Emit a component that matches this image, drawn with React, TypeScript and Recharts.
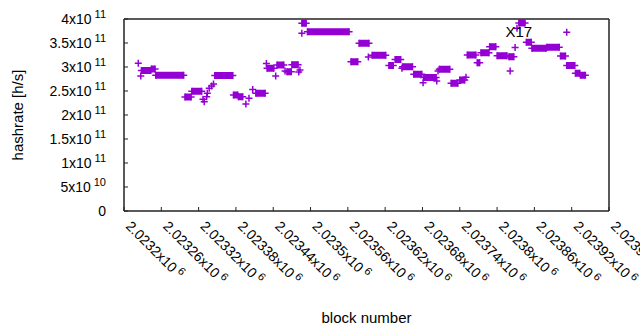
import React from "react"
import { ComposedChart, Line, XAxis, YAxis, Label, ReferenceArea } from "recharts"

// block heights where the miner reported the same hashrate for a stretch
const runStart = [
  2023228, 2023244, 2023251, 2023298, 2023309, 2023346, 2023376, 2023384, 2023412, 2023430,
  2023446, 2023462, 2023470, 2023486, 2023495, 2023565, 2023578, 2023599, 2023626, 2023636,
  2023648, 2023666, 2023682, 2023707, 2023726, 2023740, 2023752, 2023768, 2023774, 2023788,
  2023800, 2023819, 2023835, 2023847, 2023856, 2023880, 2023902, 2023912, 2023926, 2023934,
]
const runEnd = [
  2023243, 2023250, 2023296, 2023308, 2023325, 2023375, 2023383, 2023391, 2023427, 2023441,
  2023457, 2023469, 2023480, 2023493, 2023562, 2023576, 2023594, 2023621, 2023633, 2023645,
  2023664, 2023679, 2023702, 2023724, 2023737, 2023748, 2023766, 2023772, 2023787, 2023798,
  2023816, 2023827, 2023845, 2023855, 2023879, 2023900, 2023910, 2023925, 2023933, 2023942,
]
const runRate = [
  292.7e9, 295.8e9, 282.7e9, 237.5e9, 249.4e9, 282.3e9, 241.7e9, 238.1e9, 245.2e9, 297.3e9,
  304.2e9, 290.2e9, 304.8e9, 391.0e9, 373.5e9, 311.0e9, 349.4e9, 324.4e9, 303.1e9, 315.6e9,
  300.6e9, 284.8e9, 278.1e9, 295.2e9, 266.0e9, 272.9e9, 325.0e9, 309.0e9, 329.8e9, 342.3e9,
  323.5e9, 321.5e9, 391.7e9, 351.7e9, 339.2e9, 341.0e9, 322.9e9, 303.1e9, 286.9e9, 282.9e9,
]

// isolated samples
const singleBlock = [
  2023223, 2023227, 2023327, 2023329, 2023333, 2023334, 2023337, 2023341, 2023344, 2023396,
  2023401, 2023407, 2023429, 2023444, 2023459, 2023481, 2023483, 2023486, 2023593, 2023647,
  2023681, 2023703, 2023705, 2023750, 2023821, 2023829, 2023832, 2023912,
]
const singleRate = [
  307.7e9, 281.2e9, 232.7e9, 227.7e9, 238.1e9, 245.2e9, 255.6e9, 260.4e9, 264.6e9, 222.9e9,
  234.8e9, 253.1e9, 307.3e9, 281.2e9, 291.7e9, 289.6e9, 293.7e9, 370.2e9, 320.8e9, 297.3e9,
  267.3e9, 270.8e9, 291.7e9, 278.5e9, 291.7e9, 340.6e9, 380.6e9, 372.3e9,
]

const xTicks = [
  2023200, 2023260, 2023320, 2023380, 2023440, 2023500, 2023560,
  2023620, 2023680, 2023740, 2023800, 2023860, 2023920, 2023980,
]
const yTicks = [0, 5e10, 1e11, 1.5e11, 2e11, 2.5e11, 3e11, 3.5e11, 4e11]
const xDomain = [2023200, 2023980]
const yDomain = [0, 4e11]

const noteData = [{ block: 2023835, rate: 373.5e9, text: "X17" }]

const PURPLE = "#9400d3"
const INK = "#222222"
const FONT = "'Liberation Sans', Arial, sans-serif"

const runData: { block: number; rate: number | null }[] = []
runStart.forEach((s, i) => {
  runData.push({ block: s, rate: runRate[i] })
  runData.push({ block: runEnd[i], rate: runRate[i] })
  runData.push({ block: runEnd[i] + 0.5, rate: null })
})
const singleData = singleBlock.map((b, i) => ({ block: b, rate: singleRate[i] }))

function crossPath(cx: number, cy: number, r = 3.5) {
  return `M${cx - r},${cy}H${cx + r}M${cx},${cy - r}V${cy + r}`
}

function crossDot(p: any) {
  if (p.value == null || p.cy == null) return <g key={`d${p.index}`} />
  return <path key={`d${p.index}`} d={crossPath(p.cx, p.cy)} stroke={PURPLE} strokeWidth={1.5} fill="none" />
}

function noteDot(p: any) {
  return (
    <text
      key={`n${p.index}`}
      x={p.cx}
      y={p.cy}
      textAnchor="middle"
      dominantBaseline="central"
      fontSize={15}
      fontFamily={FONT}
      fill="#000"
    >
      {p.payload.text}
    </text>
  )
}

function splitSci(v: number) {
  const exp = Math.floor(Math.log10(v))
  const mant = parseFloat((v / Math.pow(10, exp)).toFixed(6))
  return { mant: String(mant), exp: String(exp) }
}

function NoTick() {
  return <g />
}

function YTick({ x, y, payload }: any) {
  if (payload.value === 0)
    return (
      <text x={x} y={y} textAnchor="end" dominantBaseline="central" fontSize={14} fontFamily={FONT} fill="#000">
        0
      </text>
    )
  const { mant, exp } = splitSci(payload.value)
  return (
    <text x={x} y={y} textAnchor="end" dominantBaseline="central" fontSize={14} fontFamily={FONT} fill="#000">
      {mant}x10
      <tspan dx={3} dy={-5} fontSize={11}>{exp}</tspan>
    </text>
  )
}

function XTick({ x, y, payload }: any) {
  const label = String(parseFloat((payload.value / 1e6).toFixed(6)))
  return (
    <g transform={`translate(${x + 1},${y - 1}) rotate(45)`}>
      <text x={0} y={0} textAnchor="start" fontSize={14} fontFamily={FONT} fill="#000">
        {label}x10
        <tspan dx={3} dy={-5} fontSize={11}>6</tspan>
      </text>
    </g>
  )
}

export default function App() {
  return (
    <div style={{ width: 640, height: 330, background: "#fff" }}>
      <style>{"body{margin:0}"}</style>
      <ComposedChart width={640} height={330} margin={{ top: 19, right: 31, bottom: 0, left: 0 }}>
        <XAxis
          type="number"
          dataKey="block"
          domain={xDomain}
          ticks={xTicks}
          interval={0}
          tickSize={-4}
          tickMargin={21}
          height={119}
          stroke={INK}
          tick={<XTick />}
        >
          <Label
            content={({ viewBox }: any) => (
              <text
                x={viewBox.x + viewBox.width / 2}
                y={viewBox.y + 106}
                textAnchor="middle"
                dominantBaseline="central"
                fontSize={15}
                fontFamily={FONT}
                fill="#000"
              >
                block number
              </text>
            )}
          />
        </XAxis>
        <XAxis
          xAxisId="top"
          orientation="top"
          mirror
          type="number"
          domain={xDomain}
          ticks={xTicks}
          interval={0}
          tickSize={4}
          stroke={INK}
          tick={<NoTick />}
        />
        <YAxis
          type="number"
          dataKey="rate"
          domain={yDomain}
          ticks={yTicks}
          interval={0}
          tickSize={-4}
          tickMargin={22}
          width={124}
          stroke={INK}
          tick={<YTick />}
        >
          <Label
            content={({ viewBox }: any) => {
              const cx = 17
              const cy = viewBox.y + viewBox.height / 2
              return (
                <text
                  x={cx}
                  y={cy}
                  transform={`rotate(-90, ${cx}, ${cy})`}
                  textAnchor="middle"
                  dominantBaseline="central"
                  fontSize={15}
                  fontFamily={FONT}
                  fill="#000"
                >
                  hashrate [h/s]
                </text>
              )
            }}
          />
        </YAxis>
        <YAxis
          yAxisId="right"
          orientation="right"
          mirror
          type="number"
          domain={yDomain}
          ticks={yTicks}
          interval={0}
          tickSize={4}
          stroke={INK}
          tick={<NoTick />}
        />
        <ReferenceArea
          x1={xDomain[0]}
          x2={xDomain[1]}
          y1={yDomain[0]}
          y2={yDomain[1]}
          fill="none"
          stroke={INK}
          strokeWidth={1}
        />
        <Line
          data={runData}
          dataKey="rate"
          stroke={PURPLE}
          strokeWidth={7}
          strokeLinecap="butt"
          connectNulls={false}
          isAnimationActive={false}
          dot={crossDot}
          activeDot={false}
        />
        <Line
          data={singleData}
          dataKey="rate"
          stroke="none"
          isAnimationActive={false}
          dot={crossDot}
          activeDot={false}
        />
        <Line
          data={noteData}
          dataKey="rate"
          stroke="none"
          isAnimationActive={false}
          dot={noteDot}
          activeDot={false}
        />
      </ComposedChart>
    </div>
  )
}
